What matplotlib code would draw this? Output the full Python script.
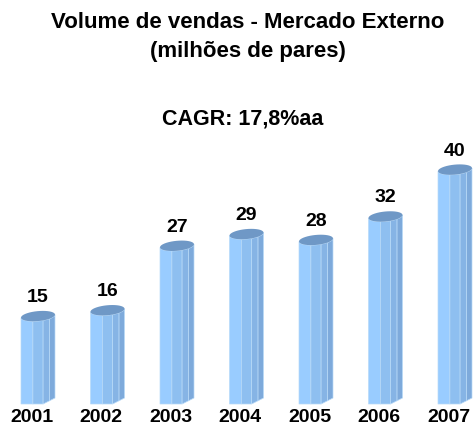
import numpy as np
import matplotlib
matplotlib.use("Agg")
import matplotlib.pyplot as plt
from matplotlib.patches import Polygon

plt.rcParams['font.family'] = ['Liberation Sans', 'DejaVu Sans']

anos = ["2001", "2002", "2003", "2004", "2005", "2006", "2007"]
volumes = [15, 16, 27, 29, 28, 32, 40]

titulo_1 = "Volume de vendas - Mercado Externo"
titulo_2 = "(milhões de pares)"
subtitulo = "CAGR: 17,8%aa"

# cores das faces do cilindro (da esquerda para a direita) e do topo
cores_faces = ["#99ccff", "#8ebff0", "#86b4e5", "#7eaadb"]
frac_faces = [0.35, 0.30, 0.19, 0.16]
cor_topo = "#6f98c6"

W, H = 474, 432
fig = plt.figure(figsize=(W / 100, H / 100), dpi=100)
base_px = 28
ax = fig.add_axes([0, base_px / H, 1, 1 - base_px / H])
px_x = 69.5          # pixels por categoria
px_y = 5.86          # pixels por unidade
ax.set_xlim(-31.5 / px_x, (W - 31.5) / px_x)
ax.set_ylim(0, (H - base_px) / px_y)
ax.axis('off')

meia_larg = 17 / px_x
e = 5 / px_y        # meia altura da elipse do topo
incl = 1.5 / px_y   # inclinação da elipse
desloc = 6.5 / px_x

def borda_inf(u, v):
    return v - e * np.sqrt(np.clip(1 - u ** 2, 0, 1)) + incl * u

def base(u):
    return np.where(u < 0.3, 0.0, (u - 0.3) / 0.7 * 6 / px_y)

for i, v in enumerate(volumes):
    cx = i + desloc
    limites = np.concatenate([[0], np.cumsum(frac_faces)]) * 2 - 1
    for k, cor in enumerate(cores_faces):
        u = np.linspace(limites[k], limites[k + 1], 12)
        xs = cx + u * meia_larg
        topo = borda_inf(u, v)
        fundo = base(u)
        pts = np.column_stack([np.concatenate([xs, xs[::-1]]),
                               np.concatenate([topo, fundo[::-1]])])
        ax.add_patch(Polygon(pts, closed=True, facecolor=cor,
                             edgecolor="#b8daf8", lw=0.5, clip_on=False))
    # topo arredondado
    t = np.linspace(0, 2 * np.pi, 40)
    u = np.cos(t)
    ax.add_patch(Polygon(np.column_stack([cx + u * meia_larg,
                                          v + e * np.sin(t) + incl * u]),
                         closed=True, facecolor=cor_topo, edgecolor="none",
                         clip_on=False))
    ax.text(cx, v + 14 / px_y, str(v), ha='center', va='baseline',
            fontsize=14, fontweight='bold')
    ax.text(i, -5 / px_y, anos[i], ha='center', va='top',
            fontsize=14, fontweight='bold')

fig.text(248 / W, 1 - 28 / H, titulo_1, ha='center', va='baseline', fontsize=16,
         fontweight='bold')
fig.text(248 / W, 1 - 57 / H, titulo_2, ha='center', va='baseline', fontsize=16,
         fontweight='bold')
fig.text(243 / W, 1 - 125 / H, subtitulo, ha='center', va='baseline',
         fontsize=15.5, fontweight='bold')

fig.savefig("out.png", dpi=100)
